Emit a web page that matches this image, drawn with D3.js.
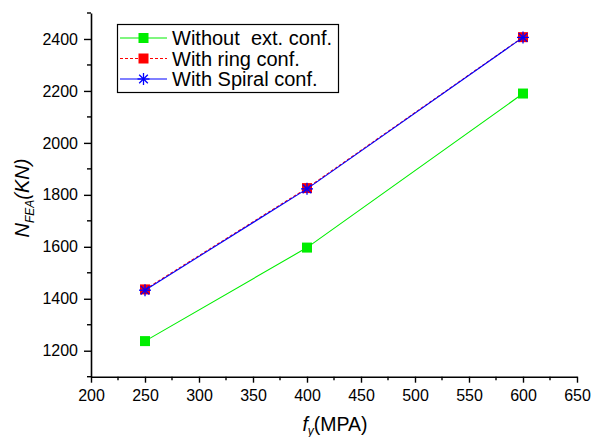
<!DOCTYPE html>
<html>
<head>
<meta charset="utf-8">
<script src="https://cdn.jsdelivr.net/npm/d3@7"></script>
<style>
  html, body { margin: 0; padding: 0; background: #fff; }
  svg { display: block; font-family: Arial, "Liberation Sans", sans-serif; }
</style>
</head>
<body>
<svg id="chart" width="594" height="437"></svg>
<script>
// Yield strength of steel (MPa)
const fy = [250, 400, 600];
// FEA axial capacity (kN) for each confinement case
const withoutExt = [1237, 1597, 2190];
const withRing = [1436, 1826, 2407];
const withSpiral = [1433, 1823, 2406];
const seriesNames = ["Without  ext. conf.", "With ring conf.", "With Spiral conf."];
const xTicks = [200, 250, 300, 350, 400, 450, 500, 550, 600, 650];
const yTicks = [1200, 1400, 1600, 1800, 2000, 2200, 2400];

const svg = d3.select("#chart");
const FONT = "Arial, 'Liberation Sans', sans-serif";

const x = d3.scaleLinear().domain([200, 650]).range([91, 577]);
const y = d3.scaleLinear().domain([1100, 2500]).range([376.7, 13]);

// Minor ticks between the labelled ones
const xMinor = d3.range(225, 650, 50);
const yMinor = d3.range(1100, 2501, 200);

const gx = svg.append("g").attr("transform", `translate(0,${y(1100)})`);
gx.call(d3.axisBottom(x).tickValues(xTicks).tickFormat(d3.format("d")).tickSize(6).tickSizeOuter(0).tickPadding(7))
  .call(g => g.select(".domain").attr("stroke", "#000").attr("stroke-width", 1.6))
  .call(g => g.selectAll(".tick line").attr("stroke-width", 1.4))
  .call(g => g.selectAll(".tick text").attr("font-size", 16).attr("font-family", FONT).attr("fill", "#000"));
gx.selectAll(".minor").data(xMinor).enter().append("line")
  .attr("x1", d => x(d)).attr("x2", d => x(d)).attr("y1", 0).attr("y2", 3.5)
  .attr("stroke", "#000").attr("stroke-width", 1.4);

const gy = svg.append("g").attr("transform", `translate(${x(200)},0)`);
gy.call(d3.axisLeft(y).tickValues(yTicks).tickFormat(d3.format("d")).tickSize(7).tickSizeOuter(0).tickPadding(6))
  .call(g => g.select(".domain").attr("stroke", "#000").attr("stroke-width", 1.6))
  .call(g => g.selectAll(".tick line").attr("stroke-width", 1.4))
  .call(g => g.selectAll(".tick text").attr("font-size", 16).attr("font-family", FONT).attr("fill", "#000"));
gy.selectAll(".minor").data(yMinor).enter().append("line")
  .attr("x1", -4).attr("x2", 0).attr("y1", d => y(d)).attr("y2", d => y(d))
  .attr("stroke", "#000").attr("stroke-width", 1.4);

// Axis titles
const xt = svg.append("text").attr("x", 335).attr("y", 431).attr("text-anchor", "middle")
  .attr("font-size", 19.5).attr("fill", "#000");
xt.append("tspan").attr("font-style", "italic").text("f");
xt.append("tspan").attr("font-style", "italic").attr("font-size", 12).attr("dy", 4).text("y");
xt.append("tspan").attr("dy", -4).text("(MPA)");

const yt = svg.append("text").attr("transform", "translate(29,198) rotate(-90)")
  .attr("text-anchor", "middle").attr("font-size", 20).attr("fill", "#000");
yt.append("tspan").attr("font-style", "italic").text("N");
yt.append("tspan").attr("font-style", "italic").attr("font-size", 12).attr("dy", 5).text("FEA");
yt.append("tspan").attr("font-style", "italic").attr("dy", -5).text("(KN)");

const line = d3.line().x(d => x(d[0])).y(d => y(d[1]));

const series = [
  { name: seriesNames[0], vals: withoutExt, color: "#00ee00", dash: null, marker: "square", size: 10 },
  { name: seriesNames[1], vals: withRing, color: "#ff0000", dash: "3,2", marker: "square", size: 10 },
  { name: seriesNames[2], vals: withSpiral, color: "#0000ff", dash: null, marker: "star", size: 12 }
];

function drawMarker(g, cx, cy, s) {
  if (s.marker === "square") {
    g.append("rect").attr("x", cx - s.size / 2).attr("y", cy - s.size / 2)
      .attr("width", s.size).attr("height", s.size).attr("fill", s.color);
  } else {
    const r = s.size / 2;
    [[0, 1], [1, 0], [0.72, 0.72], [0.72, -0.72]].forEach(([dx, dy]) => {
      g.append("line").attr("x1", cx - dx * r).attr("y1", cy - dy * r)
        .attr("x2", cx + dx * r).attr("y2", cy + dy * r)
        .attr("stroke", s.color).attr("stroke-width", 1.3);
    });
  }
}

series.forEach(s => {
  const pts = fy.map((v, i) => [v, s.vals[i]]);
  svg.append("path").datum(pts).attr("d", line).attr("fill", "none")
    .attr("stroke", s.color).attr("stroke-width", 1.1)
    .attr("stroke-dasharray", s.dash);
  const g = svg.append("g");
  pts.forEach(p => drawMarker(g, x(p[0]), y(p[1]), s));
});

// Legend
const lg = svg.append("g");
lg.append("rect").attr("x", 117.5).attr("y", 24.5).attr("width", 221).attr("height", 68)
  .attr("fill", "#fff").attr("stroke", "#000").attr("stroke-width", 1.2);
series.forEach((s, i) => {
  const cy = 38 + i * 20.5;
  lg.append("line").attr("x1", 120).attr("x2", 167).attr("y1", cy).attr("y2", cy)
    .attr("stroke", s.color).attr("stroke-width", 1.1).attr("stroke-dasharray", s.dash);
  drawMarker(lg, 143.5, cy, s);
  lg.append("text").attr("x", 172).attr("y", cy + 7).attr("font-size", 20)
    .attr("fill", "#000").text(s.name).style("white-space", "pre");
});
</script>
</body>
</html>
